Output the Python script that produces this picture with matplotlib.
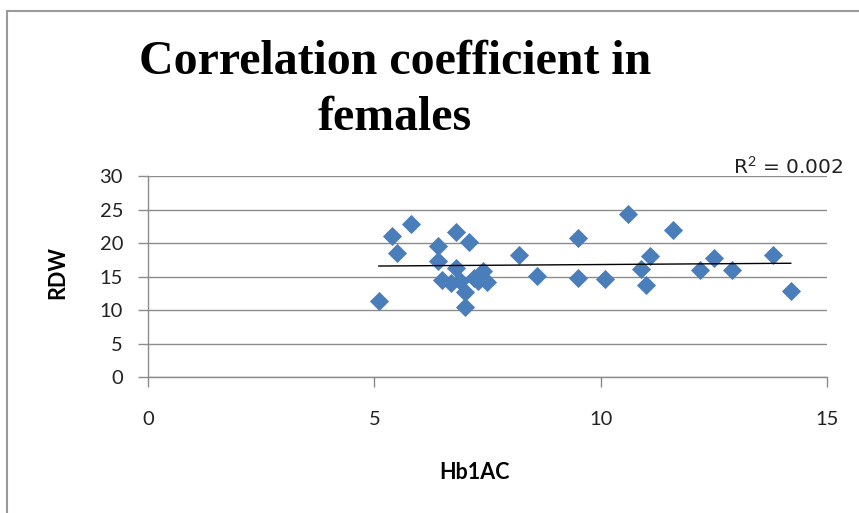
import matplotlib
matplotlib.use('Agg')
import matplotlib.pyplot as plt
from matplotlib.patches import Rectangle
import numpy as np

plt.rcParams['mathtext.fontset'] = 'custom'
plt.rcParams['mathtext.rm'] = 'Lato'

# Hb1AC vs RDW, females
hb1ac = [5.1, 5.4, 5.5, 5.8, 6.4, 6.4, 6.5, 6.7, 6.8, 6.8,
         6.9, 7.0, 7.0, 7.1, 7.2, 7.3, 7.4, 7.5, 8.2, 8.6,
         9.5, 9.5, 10.1, 10.6, 10.9, 11.0, 11.1, 11.6, 12.2, 12.5,
         12.9, 13.8, 14.2]
rdw = [11.3, 21.0, 18.5, 22.8, 19.5, 17.3, 14.5, 14.1, 21.7, 16.3,
       14.3, 12.7, 10.5, 20.2, 14.8, 14.3, 15.9, 14.2, 18.2, 15.1,
       20.8, 14.8, 14.6, 24.3, 16.2, 13.8, 18.1, 21.9, 16.0, 17.8,
       16.0, 18.2, 12.8]
r2_text = r'R$^{\mathrm{2}}$ = 0.002'
xticks = [0, 5, 10, 15]
yticks = [0, 5, 10, 15, 20, 25, 30]

x = np.array(hb1ac)
y = np.array(rdw)

fig = plt.figure(figsize=(8.59, 5.13), dpi=100)
ax = fig.add_axes([0.1723, 0.2645, 0.7904, 0.3925])

grey = '#8c8c8c'
ax.set_xlim(0, 15)
ax.set_ylim(0, 30)
ax.set_xticks(xticks)
ax.set_yticks(yticks)
ax.yaxis.grid(True, color=grey, lw=1)
ax.set_axisbelow(True)
for s in ['top', 'right']:
    ax.spines[s].set_visible(False)
for s in ['left', 'bottom']:
    ax.spines[s].set_color(grey)
    ax.spines[s].set_linewidth(1)
ax.tick_params(axis='both', direction='out', length=7, width=1, color=grey,
               labelsize=14.5, labelcolor='#222222')
ax.tick_params(axis='y', pad=11)
ax.tick_params(axis='x', pad=17)
for lab in ax.get_xticklabels() + ax.get_yticklabels():
    lab.set_family('Lato')

ax.scatter(x, y, marker='D', s=95, color='#4a7ebb', zorder=3, linewidths=0)

# linear trendline
k, b = np.polyfit(x, y, 1)
xs = np.array([x.min(), x.max()])
ax.plot(xs, k * xs + b, color='black', lw=1, zorder=4)

ax.set_xlabel('Hb1AC', family='Lato', fontweight='bold', fontsize=15.5)
ax.set_ylabel('RDW', family='Lato', fontweight='bold', fontsize=15.5)
ax.xaxis.set_label_coords(0.4816, -0.475)
ax.xaxis.label.set_va('center')
ax.yaxis.set_label_coords(-0.1325, 0.523)
ax.yaxis.label.set_va('center')
ax.yaxis.label.set_ha('center')

fig.text(395 / 859, 1 - 90 / 513, 'Correlation coefficient in\nfemales',
         family='Liberation Serif', fontweight='bold', fontsize=34.5,
         ha='center', va='center', linespacing=1.33)
fig.text(843 / 859, 1 - 167 / 513, r2_text, fontsize=14.5,
         ha='right', va='center', color='#222222')

# chart frame
fig.add_artist(Rectangle((7 / 859, -0.2), 2, 1.2 - 11 / 513,
                         transform=fig.transFigure, fill=False,
                         edgecolor='#9a9a9a', lw=1.5))

fig.savefig('out.png', dpi=100)
